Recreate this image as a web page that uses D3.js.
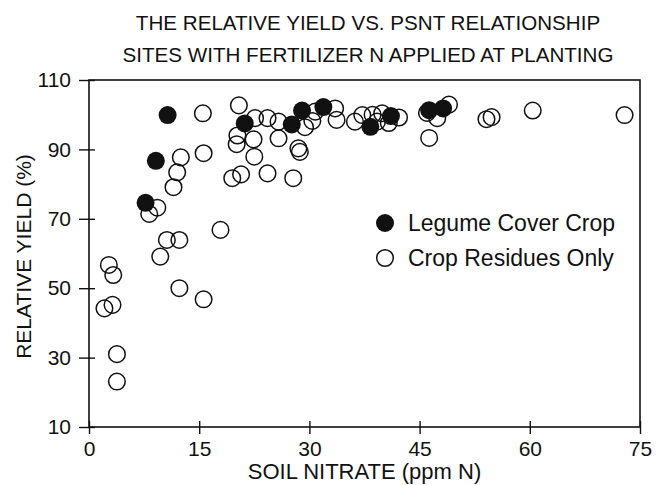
<!DOCTYPE html>
<html>
<head>
<meta charset="utf-8">
<script src="https://cdn.jsdelivr.net/npm/d3@7"></script>
<style>
  body { margin: 0; background: #fff; }
  text { font-family: "Liberation Sans", Arial, sans-serif; fill: #111; }
</style>
</head>
<body>
<div id="vis"></div>
<script>
// soil nitrate (ppm N) and relative yield (%)
var legume_x = [7.7, 9.1, 10.7, 21.2, 27.6, 29.0, 31.9, 38.3, 41.1, 46.3, 48.2];
var legume_y = [74.6, 86.7, 99.9, 97.5, 97.2, 101.2, 102.2, 96.5, 99.6, 101.3, 101.8];

var residue_x = [2.1, 3.2, 2.7, 3.3, 3.8, 3.8,
                 8.2, 9.3, 9.7, 10.6, 12.3, 12.3, 15.6, 11.5, 12.0, 12.5, 15.5, 15.6, 17.9,
                 19.5, 20.7, 24.3, 27.8,
                 20.4, 22.6, 24.3, 25.8, 20.2, 20.1, 22.4, 25.8, 22.5, 28.5, 28.7,
                 29.4, 30.4, 30.8, 33.5, 33.7,
                 36.2, 37.2, 38.6, 39.2, 39.9, 40.8, 42.2,
                 46.0, 47.4, 49.0, 46.3,
                 54.1, 54.8, 60.4, 72.9];
var residue_y = [44.2, 45.2, 56.7, 53.8, 31.0, 23.1,
                 71.4, 73.2, 59.1, 63.9, 63.9, 50.0, 46.8, 79.1, 83.4, 87.7, 100.4, 88.9, 66.8,
                 81.7, 82.8, 83.1, 81.7,
                 102.7, 99.0, 99.0, 98.0, 94.0, 91.5, 92.9, 93.2, 87.9, 90.3, 89.3,
                 96.4, 98.2, 100.9, 101.8, 98.5,
                 98.0, 99.9, 100.0, 98.0, 100.4, 97.6, 99.2,
                 100.5, 99.0, 102.9, 93.3,
                 98.7, 99.3, 101.2, 99.9];

var x_ticks = [0, 15, 30, 45, 60, 75];
var y_ticks = [10, 30, 50, 70, 90, 110];
var title_lines = ["THE RELATIVE YIELD VS. PSNT RELATIONSHIP",
                   "SITES WITH FERTILIZER N APPLIED AT PLANTING"];
var legend_labels = ["Legume Cover Crop", "Crop Residues Only"];

var width = 656
var height = 485
var plot_left = 89, plot_right = 640, plot_top = 80, plot_bottom = 427;
var r = 8.3;

var svg = d3.select("#vis")
    .append("svg")
    .attr("width", width)
    .attr("height", height)

var xScale = d3.scaleLinear().domain([0, 75]).range([plot_left, plot_right]);
var yScale = d3.scaleLinear().domain([10, 110]).range([plot_bottom, plot_top]);

// frame
svg.append("rect")
    .attr("x", plot_left)
    .attr("y", plot_top)
    .attr("width", plot_right - plot_left)
    .attr("height", plot_bottom - plot_top)
    .attr("fill", "none")
    .attr("stroke", "#111")
    .attr("stroke-width", 1.6)

var xAxis = d3.axisBottom(xScale)
    .tickValues(x_ticks)
    .tickSize(7)
    .tickPadding(7)

var gx = svg.append("g")
    .attr("transform", "translate(0," + plot_bottom + ")")
    .call(xAxis)
gx.select(".domain").remove()
gx.selectAll("line").attr("y1", -6).attr("stroke", "#111").attr("stroke-width", 1.4)
gx.selectAll("text").style("font-size", "21px").style("fill", "#111")
    .style("font-family", "Liberation Sans, Arial, sans-serif")

var yAxis = d3.axisLeft(yScale)
    .tickValues(y_ticks)
    .tickSize(10)
    .tickPadding(8)

var gy = svg.append("g")
    .attr("transform", "translate(" + plot_left + ",0)")
    .call(yAxis)
gy.select(".domain").remove()
gy.selectAll("line").attr("x1", 6).attr("stroke", "#111").attr("stroke-width", 1.4)
gy.selectAll("text").style("font-size", "21px").style("fill", "#111")
    .style("font-family", "Liberation Sans, Arial, sans-serif")

// residues first, legume on top
var residues = residue_x.map(function(d, i) { return {x: d, y: residue_y[i]}; });
var legumes = legume_x.map(function(d, i) { return {x: d, y: legume_y[i]}; });

svg.selectAll("circle.residue")
    .data(residues)
    .enter()
    .append("circle")
    .attr("class", "residue")
    .attr("cx", function(d) { return xScale(d.x); })
    .attr("cy", function(d) { return yScale(d.y); })
    .attr("r", r)
    .attr("fill", "none")
    .attr("stroke", "#111")
    .attr("stroke-width", 1.5)

svg.selectAll("circle.legume")
    .data(legumes)
    .enter()
    .append("circle")
    .attr("class", "legume")
    .attr("cx", function(d) { return xScale(d.x); })
    .attr("cy", function(d) { return yScale(d.y); })
    .attr("r", r + 0.7)
    .attr("fill", "#111")

// titles
svg.selectAll("text.title")
    .data(title_lines)
    .enter()
    .append("text")
    .attr("class", "title")
    .attr("x", 368)
    .attr("y", function(d, i) { return 30 + i * 32; })
    .attr("text-anchor", "middle")
    .style("font-size", "20.6px")
    .text(function(d) { return d; })

svg.append("text")
    .attr("x", (plot_left + plot_right) / 2)
    .attr("y", 479)
    .attr("text-anchor", "middle")
    .style("font-size", "22px")
    .text("SOIL NITRATE (ppm N)")

svg.append("text")
    .attr("transform", "translate(31," + ((plot_top + plot_bottom) / 2 + 3) + ") rotate(-90)")
    .attr("text-anchor", "middle")
    .style("font-size", "21px")
    .text("RELATIVE YIELD (%)")

// legend
var legend = svg.append("g")
legend.selectAll("circle")
    .data(legend_labels)
    .enter()
    .append("circle")
    .attr("cx", 385)
    .attr("cy", function(d, i) { return 223 + i * 35; })
    .attr("r", function(d, i) { return i === 0 ? r + 0.7 : r; })
    .attr("fill", function(d, i) { return i === 0 ? "#111" : "none"; })
    .attr("stroke", "#111")
    .attr("stroke-width", function(d, i) { return i === 0 ? 0 : 1.5; })

legend.selectAll("text")
    .data(legend_labels)
    .enter()
    .append("text")
    .attr("x", 408)
    .attr("y", function(d, i) { return 231 + i * 35; })
    .style("font-size", "23px")
    .text(function(d) { return d; })
</script>
</body>
</html>
